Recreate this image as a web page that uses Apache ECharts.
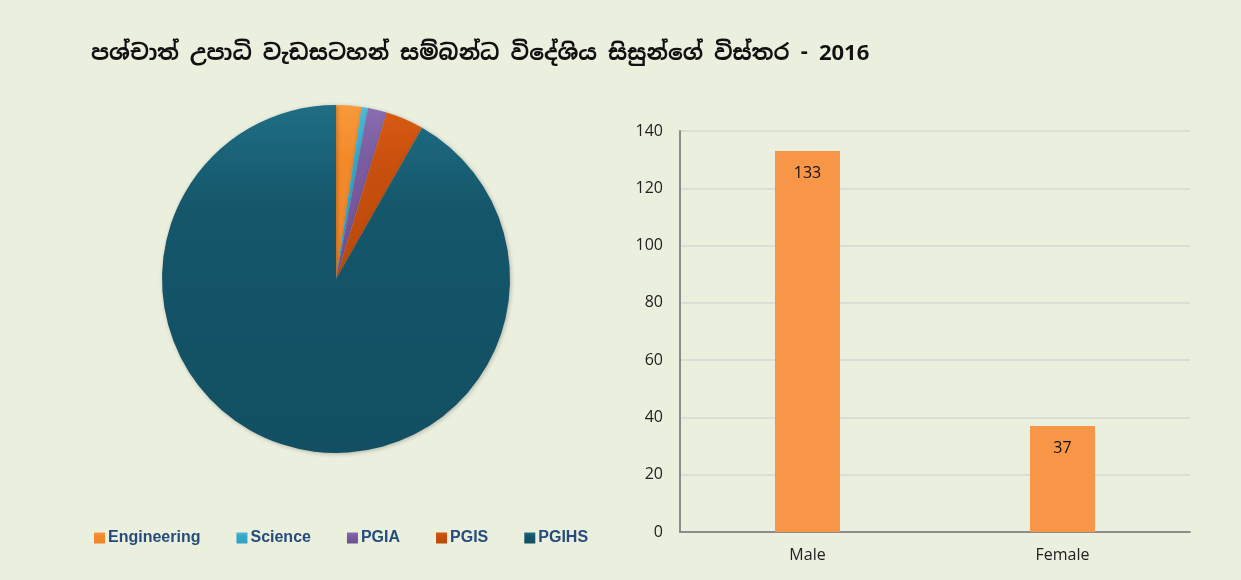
<!DOCTYPE html>
<html lang="si">
<head>
<meta charset="UTF-8">
<title>පශ්චාත් උපාධි</title>
<style>
  html, body { margin: 0; padding: 0; background: #ebefde; }
  #main { width: 1241px; height: 580px; }
</style>
</head>
<body>
<div id="main"></div>
<script src="https://cdn.jsdelivr.net/npm/echarts@6/dist/echarts.min.js"></script>
<script>
// pie: students by faculty/institute
var pieNames = ['Engineering', 'Science', 'PGIA', 'PGIS', 'PGIHS'];
var pieValues = [4, 1, 3, 6, 156];
// bar: by gender
var genders = ['Male', 'Female'];
var genderCounts = [133, 37];
var yTicks = [0, 20, 40, 60, 80, 100, 120, 140];

var titleText = 'පශ්චාත් උපාධි වැඩසටහන් සම්බන්ධ විදේශිය සිසුන්ගේ විස්තර - 2016';

// top / mid / bottom colours for each slice
var pieColors = [
  ['#f99a3a', '#f38a2a', '#ef8527'],
  ['#4dbbd9', '#35a8c8', '#2fa2c4'],
  ['#8a6cb0', '#7a5ca0', '#6f5193'],
  ['#d65a12', '#c9500d', '#b9490b'],
  ['#1e6e85', '#15566a', '#124f62']
];

function grad(c) {
  return new echarts.graphic.LinearGradient(0, 0, 0, 1, [
    { offset: 0, color: c[0] }, { offset: 0.3, color: c[1] }, { offset: 1, color: c[2] }
  ]);
}

var pieData = [];
for (var i = 0; i < pieNames.length; i++) {
  pieData.push({ name: pieNames[i], value: pieValues[i], itemStyle: { color: grad(pieColors[i]) } });
}

var chart = echarts.init(document.getElementById('main'));
chart.setOption({
  backgroundColor: '#ebefde',
  animation: false,
  title: {
    text: titleText,
    left: 86,
    top: 38,
    textStyle: {
      fontFamily: '"Noto Sans Sinhala", "Iskoola Pota", "Noto Sans", "DejaVu Sans", sans-serif',
      fontSize: 22,
      fontWeight: 'bold',
      color: '#111'
    }
  },
  legend: {
    data: pieNames,
    left: 89,
    top: 525,
    itemWidth: 11,
    itemHeight: 11,
    itemGap: 36,
    icon: 'rect',
    textStyle: {
      fontFamily: '"Liberation Sans", Arial, sans-serif',
      fontSize: 16,
      fontWeight: 'bold',
      color: '#264c7c',
      padding: [0, 0, 0, -2]
    }
  },
  grid: { left: 680, right: 51, top: 131, bottom: 48 },
  xAxis: {
    type: 'category',
    data: genders,
    axisLine: { lineStyle: { color: '#8c8c8c', width: 2 } },
    axisTick: { show: false },
    axisLabel: { color: '#222', fontSize: 16, margin: 15, fontFamily: '"Open Sans", sans-serif' }
  },
  yAxis: {
    type: 'value',
    min: 0,
    max: 140,
    interval: 20,
    axisLine: { show: true, lineStyle: { color: '#8c8c8c', width: 2 } },
    axisTick: { show: false },
    splitLine: { lineStyle: { color: '#d6d8d4', width: 1.5 } },
    axisLabel: {
      color: '#222', fontSize: 16, margin: 17, fontFamily: '"Open Sans", sans-serif',
      formatter: function (v) { return yTicks.indexOf(v) >= 0 ? String(v) : ''; }
    }
  },
  series: [
    {
      type: 'pie',
      center: [336, 279],
      radius: 174,
      startAngle: 90,
      clockwise: true,
      label: { show: false },
      labelLine: { show: false },
      emphasis: { disabled: true },
      itemStyle: { borderWidth: 0, shadowBlur: 4, shadowColor: 'rgba(0,0,0,0.25)', shadowOffsetX: 1, shadowOffsetY: 1 },
      data: pieData
    },
    {
      type: 'bar',
      data: genderCounts,
      barWidth: '25.5%',
      itemStyle: { color: '#f79646' },
      label: {
        show: true,
        position: 'insideTop',
        distance: 14,
        color: '#111',
        fontSize: 16,
        fontFamily: '"Open Sans", sans-serif'
      }
    }
  ]
});
</script>
</body>
</html>
